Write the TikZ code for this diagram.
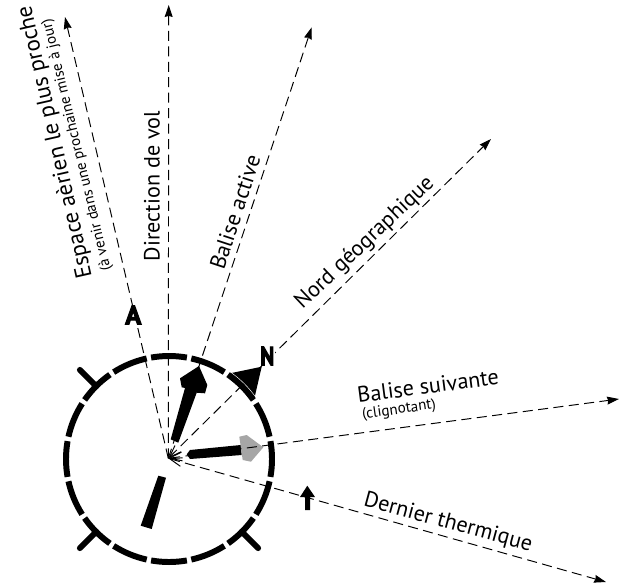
\documentclass[tikz,border=0pt]{standalone}
\usepackage{fontspec}
\setmainfont{PT Sans}
\newfontfamily\heavyfont[FakeBold=4]{PT Sans Bold}
\usetikzlibrary{arrows.meta}
\begin{document}
\begin{tikzpicture}[
 x=.02cm,y=.02cm,
 ray/.style={line width=.55pt,dash pattern=on 5.7pt off 3.1pt,-{Stealth[length=6.8pt,width=4.5pt,inset=.6pt]}},
 barbed/.style={ray,{Straight Barb[length=7pt,width=5pt]}-{Stealth[length=6.8pt,width=4.5pt,inset=.6pt]}},
 rim/.style={line width=3.4pt},
 marker/.style={line width=3.4pt,line cap=round},
 pointer/.style={fill=black},
 bigtext/.style={font=\fontsize{12.6}{14}\selectfont,inner sep=0pt},
 smalltext/.style={font=\fontsize{8.6}{10}\selectfont,inner sep=0pt},
 letter/.style={font=\heavyfont\fontsize{15}{16}\selectfont,fill=white,inner sep=.5pt}]
 \useasboundingbox (-169,-124) rectangle (455,459);
 \coordinate (c) at (-.7,.7);
 \coordinate (airspace) at (-104,442);
 \coordinate (heading) at (-.3,454);
 \coordinate (active) at (142.7,431.7);
 \coordinate (north) at (322,320);
 \coordinate (next) at (450,60);
 \coordinate (thermal) at (437,-123);
 % Dial: sixteen arcs and three outer marks.
 \foreach \a in {0,22.5,...,337.5}{
  \draw[rim] (\a-10:103) arc[start angle=\a-10,delta angle=20,radius=103];
 }
 \foreach \a in {135,225,315}{\draw[marker] (\a:103)--(\a:126);}
 % North triangle on the rim.
 \fill[pointer] (61,85.7)--(92.7,92.3)--(85,59)--cycle;
 \draw[white,line width=.25pt] (36:106.5) arc[start angle=36,delta angle=18,radius=106.5];
 % Pointers inside the dial.
 \fill[pointer] (1.7,19.7)--(9.3,16.3)--(27.7,66.3)--(36,65.7)--(38.3,74)--(30,93)
   --(11,80.7)--(12.7,71.7)--(16,71)--cycle;
 \fill[pointer] (21,9)--(17.7,4.7)--(21,0)--(72.7,4)--(71.7,14)--cycle;
 \fill[gray!70] (70.3,22.3)--(77.7,24)--(94.3,11.7)--(82,-2.7)--(73.7,-1)--cycle;
 \fill[pointer] (-10.7,-16.7)--(-3,-18.7)--(-17.3,-70)--(-28.3,-66.7)--cycle;
 % Rays from the centre.
 \draw[ray] (c)--(airspace);
 \draw[ray] (c)--(heading);
 \draw[ray] (c)--(active);
 \draw[barbed] (c)--(north);
 \draw[barbed] (c)--(next);
 \draw[barbed] (c)--(thermal);
 % Last thermal mark on its ray.
 \fill[pointer] (138.3,-26.7)--(146,-38)--(141,-38)--(141,-51)--(136,-51)--(136,-38)--(131,-38)--cycle;
 \node[letter] (nA) at (-35.7,144){A};
 \node[letter,xscale=.8] (nN) at (98.3,103){N};
 \node[bigtext,font=\fontsize{13}{14}\selectfont,rotate=102.7] (lAir) at (-113.5,317){Espace aèrien le plus proche};
 \node[smalltext,rotate=103.5] (lAirNote) at (-92,314){(à venir dans une prochaine mise à jour)};
 \node[bigtext,rotate=90] (lHead) at (-17,273){Direction de vol};
 \node[bigtext,rotate=71.8] (lActive) at (66,247){Balise active};
 \node[bigtext,rotate=43.5] (lNorth) at (196,216){Nord géographique};
 \node[bigtext,rotate=7.4] (lNext) at (259,73){Balise suivante};
 \node[smalltext,rotate=8] (lNextNote) at (230,49){(clignotant)};
 \node[bigtext,rotate=-15.2] (lThermal) at (279,-64){Dernier thermique};
\end{tikzpicture}
\end{document}
